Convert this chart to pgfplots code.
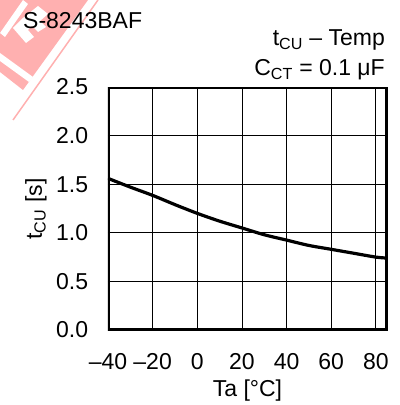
\documentclass[border=0pt]{standalone}
\usepackage{pgfplots}
\pgfplotsset{compat=1.18}
\usepackage{fontspec}
\setmainfont{Liberation Sans}
\definecolor{wm}{RGB}{255,176,176}
\begin{document}
\fontsize{23bp}{27bp}\selectfont
\begin{tikzpicture}
\useasboundingbox (-108bp,-75bp) rectangle (292bp,330bp);
% watermark (pixel coords -> X=px-108, Y=330-py)
\fill[wm] (-108bp,330bp) -- (-20bp,330bp) -- (-85bp,240bp) -- (-108bp,258bp) -- cycle;
\fill[white] (-108bp,297bp) -- (-85bp,330bp) -- (-80bp,326bp) -- (-103bp,293bp) -- cycle;
\fill[white] (-85bp,312bp) -- (-70bp,324bp) -- (-60bp,316bp) -- (-68bp,309bp) -- (-62bp,303bp) -- (-70bp,298bp) -- (-76bp,304bp) -- (-80bp,300bp) -- (-74bp,293bp) -- (-82bp,287bp) -- (-95bp,302bp) -- cycle;
\fill[white] (-108bp,277bp) -- (-75bp,253bp) -- (-79bp,248bp) -- (-108bp,269bp) -- cycle;
\draw[wm, line width=1.5bp] (-10bp,330bp) -- (-95bp,210bp);
\begin{axis}[
  at={(0,0)}, anchor=south west,
  scale only axis, width=279bp, height=243bp,
  xmin=-40, xmax=85, ymin=0, ymax=2.5,
  xtick={-40,-20,0,20,40,60,80},
  xticklabels={\textendash40,\textendash20,0,20,40,60,80},
  ytick={0,0.5,1,1.5,2,2.5},
  yticklabels={0.0,0.5,1.0,1.5,2.0,2.5},
  major tick length=0pt,
  xmajorgrids, ymajorgrids,
  grid style={black, line width=0.8bp},
  tick label style={font=\fontsize{23bp}{27bp}\selectfont},
  xticklabel style={yshift=-16bp},
  yticklabel style={xshift=-12bp},
]
\addplot[black, line width=3.2bp, smooth] coordinates {
(-40,1.56) (-30,1.47) (-20,1.385) (-10,1.29) (0,1.20) (10,1.12) (20,1.05) (30,0.98) (40,0.925) (50,0.87) (60,0.83) (70,0.79) (80,0.75) (85,0.74)
};
\draw[black, line width=3.5bp] (rel axis cs:0,0) rectangle (rel axis cs:1,1);
\end{axis}
\node[anchor=west, inner sep=0pt] at (-85bp,309bp) {S-8243BAF};
\node[anchor=east, inner sep=0pt] at (277bp,290bp) {t\textsubscript{CU} \textendash{} Temp};
\node[anchor=east, inner sep=0pt] at (277bp,260bp) {C\textsubscript{CT} = 0.1 μF};
\node at (139.5bp,-61bp) {Ta [°C]};
\node[rotate=90] at (-72bp,121bp) {t\textsubscript{CU} [s]};
\end{tikzpicture}
\end{document}
